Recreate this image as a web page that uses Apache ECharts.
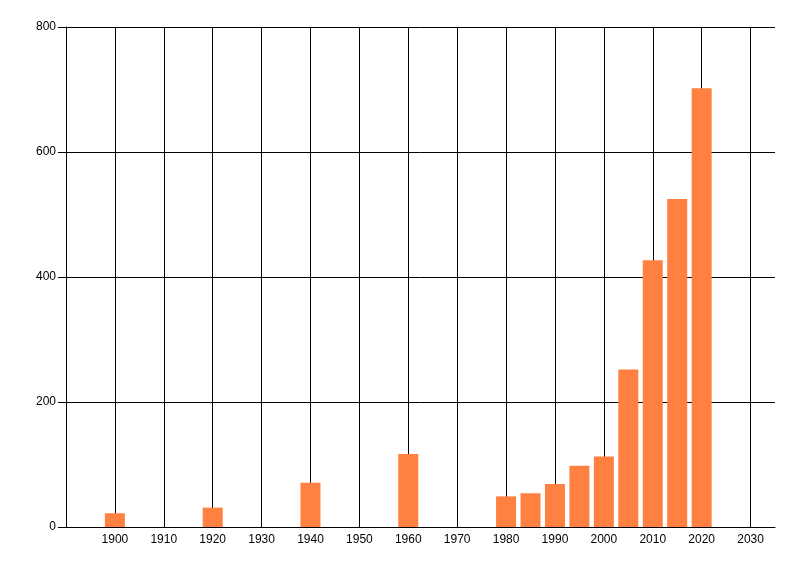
<!DOCTYPE html>
<html><head><meta charset="utf-8">
<script src="https://cdn.jsdelivr.net/npm/echarts@6/dist/echarts.min.js"></script>
<style>html,body{margin:0;padding:0;background:#fff}#c{width:800px;height:576px}</style>
</head><body><div id="c"></div>
<script>
const years = [1900, 1920, 1940, 1960, 1980, 1985, 1990, 1995, 2000, 2005, 2010, 2015, 2020];
const values = [22, 31, 71, 117, 49, 54, 69, 98, 113, 252, 427, 525, 702];
const yTicks = [0, 200, 400, 600, 800];

const chart = echarts.init(document.getElementById('c'), null, {renderer: 'canvas'});
const font = 'Liberation Sans, Arial, sans-serif';
chart.setOption({
  animation: false,
  backgroundColor: '#ffffff',
  grid: {left: 66, right: 25, top: 27, bottom: 49, containLabel: false},
  xAxis: {
    type: 'value', min: 1890, max: 2035, interval: 10,
    axisLine: {show: true, lineStyle: {color: '#000', width: 1}},
    axisTick: {show: false},
    axisLabel: {show: true, showMinLabel: false, showMaxLabel: false, color: '#000', fontSize: 12, fontFamily: font, margin: 7,
      formatter: v => (v >= 1900 && v <= 2030) ? String(v) : ''},
    splitLine: {show: true, showMinLine: false, showMaxLine: false, lineStyle: {color: '#000', width: 1}}
  },
  yAxis: {
    type: 'value', min: yTicks[0], max: yTicks[yTicks.length - 1], interval: 200,
    axisLine: {show: true, lineStyle: {color: '#000', width: 1}},
    axisTick: {show: true, length: 8, lineStyle: {color: '#000'}},
    axisLabel: {color: '#000', fontSize: 12, fontFamily: font, margin: 10},
    splitLine: {show: true, lineStyle: {color: '#000', width: 1}}
  },
  series: [{
    type: 'bar',
    data: years.map((y, i) => [y, values[i]]),
    barWidth: 20,
    itemStyle: {color: '#ff8040'}
  }]
});
</script></body></html>
